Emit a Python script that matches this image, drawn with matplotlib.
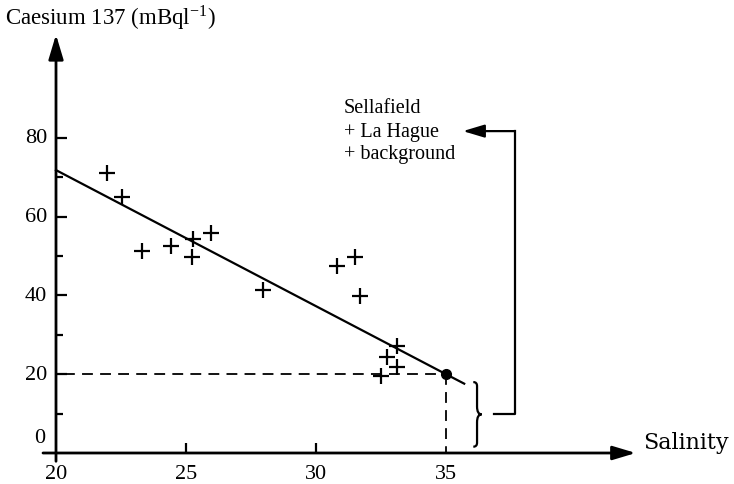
import numpy as np
import matplotlib
matplotlib.use("Agg")
import matplotlib.pyplot as plt
from matplotlib.path import Path
from matplotlib.patches import PathPatch

plt.rcParams['font.family'] = ['Liberation Serif', 'DejaVu Serif']
plt.rcParams['mathtext.fontset'] = 'stix'

# Salinity vs Caesium-137 observations
salinity = [21.96, 22.54, 23.31, 24.42, 25.27, 25.23, 25.96, 27.96,
            30.81, 31.50, 31.69, 33.12, 32.73, 33.12, 32.50]
caesium = [71.1, 65.0, 51.3, 52.5, 54.3, 49.7, 55.8, 41.4,
           47.5, 49.7, 39.8, 27.2, 24.4, 21.8, 19.5]

# Mixing line: intercept at salinity 20, end member at salinity 35
line_sal = [20.0, 35.0, 35.7]
line_cs = [71.8, 20.0, 17.6]
end_member = (35.0, 20.0)

x_ticks = [20, 25, 30, 35]
y_major = [20, 40, 60, 80]
y_minor = [10, 30, 50, 70]
legend_lines = ['Sellafield', '+ La Hague', '+ background']

W, H = 734, 485
fig = plt.figure(figsize=(W / 100, H / 100), dpi=100)
ax = fig.add_axes([0, 0, 1, 1])
ax.set_xlim(17.846, 46.077)
ax.set_ylim(-7.868, 115.23)
ax.axis('off')

k = 'black'

# axes with arrow heads
ax.annotate('', xy=(20, 106.2), xytext=(20, -2.1),
            arrowprops=dict(arrowstyle='-|>,head_length=1.0,head_width=0.3',
                            mutation_scale=15, lw=2, color=k,
                            shrinkA=0, shrinkB=0))
ax.annotate('', xy=(42.3, 0), xytext=(19.5, 0),
            arrowprops=dict(arrowstyle='-|>,head_length=1.0,head_width=0.3',
                            mutation_scale=14, lw=2, color=k,
                            shrinkA=0, shrinkB=0))

# y ticks (inside) and labels
for v in y_major:
    ax.plot([20, 20.42], [v, v], color=k, lw=1.6, solid_capstyle='butt')
    ax.annotate(str(v), xy=(20, v), xytext=(-6.5, 0), textcoords='offset points',
                ha='right', va='center', fontsize=16)
for v in y_minor:
    ax.plot([20, 20.25], [v, v], color=k, lw=1.6, solid_capstyle='butt')
ax.annotate('0', xy=(20, 0), xytext=(-7.5, 11), textcoords='offset points',
            ha='right', va='center', fontsize=16)

# x ticks (inside) and labels
for t in x_ticks[1:3]:
    ax.plot([t, t], [0, 2.6], color=k, lw=1.6, solid_capstyle='butt')
for t in x_ticks:
    ax.annotate(str(t), xy=(t, 0), xytext=(0, -14.5), textcoords='offset points',
                ha='center', va='center', fontsize=16)

# observations
ax.plot(salinity, caesium, linestyle='none', marker='+', markersize=11,
        markeredgewidth=1.6, color=k)

# mixing line and end member
ax.plot(line_sal, line_cs, color=k, lw=1.6)
ax.plot(*end_member, marker='o', markersize=7, color=k)
ax.plot([20.3, end_member[0]], [end_member[1]] * 2, color=k, lw=1.3,
        dashes=(6, 4))
ax.plot([end_member[0]] * 2, [end_member[1], 0], color=k, lw=1.3,
        dashes=(6, 4))

# brace spanning the background range
bx, by0, by1, bw = 36.05, 1.6, 18.0, 0.32
bm = 0.5 * (by0 + by1)
verts = [(bx, by1), (bx + bw * 0.45, by1), (bx + bw * 0.45, by1 - 1.0),
         (bx + bw * 0.45, bm + 2.0), (bx + bw * 0.45, bm), (bx + bw, bm),
         (bx + bw * 0.45, bm), (bx + bw * 0.45, bm - 2.0),
         (bx + bw * 0.45, by0 + 1.0), (bx + bw * 0.45, by0), (bx, by0)]
codes = [Path.MOVETO, Path.CURVE3, Path.CURVE3, Path.LINETO, Path.CURVE3,
         Path.CURVE3, Path.CURVE3, Path.CURVE3, Path.LINETO, Path.CURVE3,
         Path.CURVE3]
ax.add_patch(PathPatch(Path(verts, codes), fill=False, lw=1.6, color=k))

# connector from brace to the legend
ax.plot([36.85, 37.65, 37.65], [9.8, 9.8, 81.7], color=k, lw=1.6)
ax.annotate('', xy=(35.65, 81.7), xytext=(37.65, 81.7),
            arrowprops=dict(arrowstyle='-|>,head_length=1.0,head_width=0.3',
                            mutation_scale=13, lw=1.6, color=k,
                            shrinkA=0, shrinkB=0))

# legend text
for txt, yv in zip(legend_lines, [87.6, 81.7, 75.9]):
    ax.text(31.08, yv, txt, fontsize=14.5, va='center', ha='left')

# axis titles
fig.text(5 / W, 1 - 18 / H, r'Caesium 137 (mBql$^{\mathregular{-1}}$)',
         fontsize=16.5, ha='left', va='center')
fig.text(643 / W, 1 - 443 / H, 'Salinity', fontsize=16, ha='left',
         va='center', family='DejaVu Serif')

fig.savefig('out.png', dpi=100)
